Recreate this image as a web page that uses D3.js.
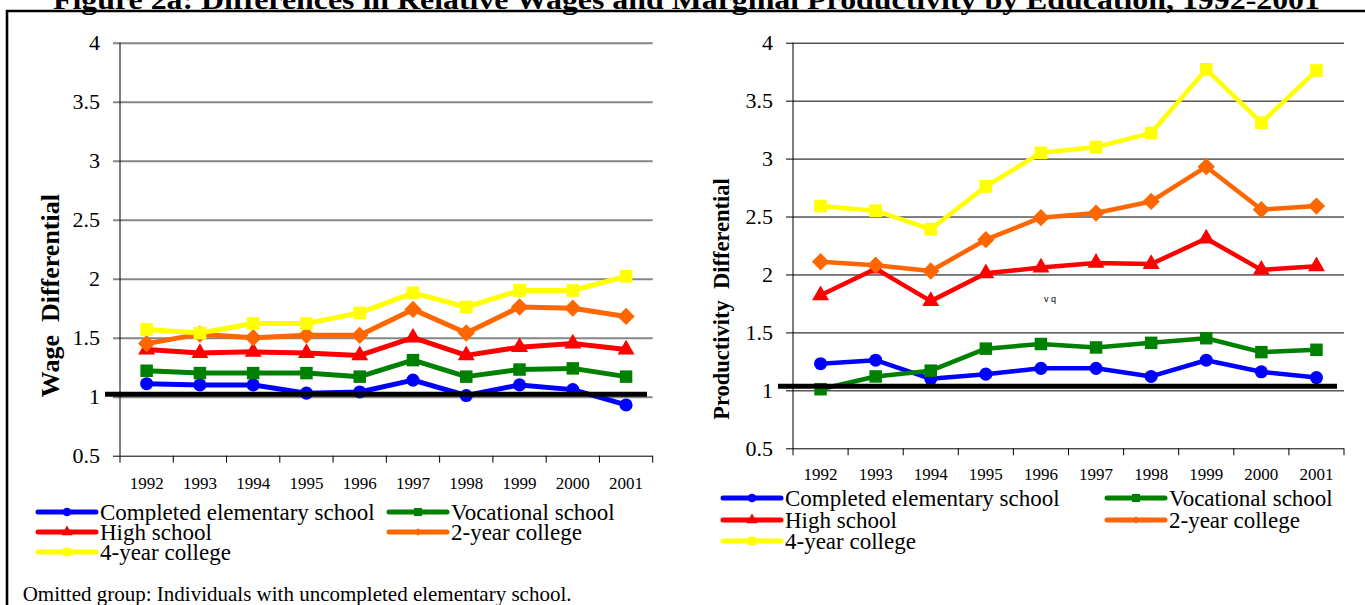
<!DOCTYPE html>
<html>
<head>
<meta charset="utf-8">
<script src="https://cdn.jsdelivr.net/npm/d3@7"></script>
<style>
  body { margin: 0; background: #fff; }
  svg { display: block; }
</style>
</head>
<body>
<svg id="chart" width="1365" height="605" font-family="'Liberation Serif', 'Times New Roman', serif"></svg>
<script>
// ---- data ----
const years = ["1992", "1993", "1994", "1995", "1996", "1997", "1998", "1999", "2000", "2001"];
const seriesNames = ["Completed elementary school", "Vocational school", "High school", "2-year college", "4-year college"];
const seriesColors = ["#0000FF", "#008000", "#FF0000", "#FF6600", "#FFFF00"];
const yTicks = [0.5, 1, 1.5, 2, 2.5, 3, 3.5, 4];

// Wage differentials
const wageElementary = [1.11, 1.10, 1.10, 1.03, 1.04, 1.14, 1.01, 1.10, 1.06, 0.93];
const wageVocational = [1.22, 1.20, 1.20, 1.20, 1.17, 1.31, 1.17, 1.23, 1.24, 1.17];
const wageHighSchool = [1.40, 1.37, 1.38, 1.37, 1.35, 1.50, 1.35, 1.42, 1.45, 1.40];
const wageCollege2 = [1.45, 1.53, 1.50, 1.52, 1.52, 1.74, 1.54, 1.76, 1.75, 1.68];
const wageCollege4 = [1.57, 1.54, 1.62, 1.62, 1.71, 1.88, 1.76, 1.90, 1.90, 2.02];

// Productivity differentials
const prodElementary = [1.23, 1.26, 1.10, 1.14, 1.19, 1.19, 1.12, 1.26, 1.16, 1.11];
const prodVocational = [1.01, 1.12, 1.17, 1.36, 1.40, 1.37, 1.41, 1.45, 1.33, 1.35];
const prodHighSchool = [1.82, 2.05, 1.77, 2.01, 2.06, 2.10, 2.09, 2.31, 2.04, 2.07];
const prodCollege2 = [2.11, 2.08, 2.03, 2.30, 2.49, 2.53, 2.63, 2.93, 2.56, 2.59];
const prodCollege4 = [2.59, 2.55, 2.39, 2.76, 3.05, 3.10, 3.22, 3.77, 3.31, 3.76];

// reference bars drawn across each panel near parity
const wageReference = 1.02;
const prodReference = 1.035;

// ---- drawing ----
const SERIF = "'Liberation Serif', 'Times New Roman', serif";
const svg = d3.select("#chart");

// square rotated 45 degrees
const symbolRhombus = {
  draw(ctx, size) {
    const r = Math.sqrt(size / 2);
    ctx.moveTo(0, -r); ctx.lineTo(r, 0); ctx.lineTo(0, r); ctx.lineTo(-r, 0); ctx.closePath();
  }
};
const seriesSymbols = [d3.symbolCircle, d3.symbolSquare, d3.symbolTriangle, symbolRhombus, d3.symbolSquare];
const symbolSizes = [135, 156, 125, 150, 160];
const legendSymbolSizes = [60, 64, 55, 30, 70];

// frame
svg.append("path")
  .attr("d", "M7,605 L7,11 L1365,11")
  .attr("fill", "none").attr("stroke", "#000").attr("stroke-width", 2.6);

// title
svg.append("text")
  .attr("x", 53).attr("y", 9)
  .attr("textLength", 1267).attr("lengthAdjust", "spacingAndGlyphs")
  .attr("font-family", SERIF)
  .attr("font-size", 27).attr("font-weight", "bold")
  .text("Figure 2a: Differences in Relative Wages and Marginal Productivity by Education, 1992-2001");

function drawPanel(cfg) {
  const g = svg.append("g");
  const x = d3.scaleBand().domain(years).range(cfg.xRange);
  const y = d3.scaleLinear().domain([0.5, 4]).range(cfg.yRange);
  const plotW = cfg.xRange[1] - cfg.xRange[0];

  // horizontal gridlines + y tick labels
  const yAxis = g.append("g")
    .attr("transform", `translate(${cfg.xRange[0] - 7},0)`)
    .call(d3.axisLeft(y).tickValues(yTicks).tickFormat(d3.format("")).tickSize(-(plotW + 7)).tickPadding(13))
    .attr("font-family", SERIF).attr("font-size", 22);
  yAxis.select(".domain").remove();
  yAxis.selectAll(".tick line")
    .attr("stroke", d => d === 0.5 ? "#000" : cfg.gridColor)
    .attr("stroke-width", d => d === 0.5 ? 1 : cfg.gridWidth);
  yAxis.selectAll(".tick text").attr("fill", "#000");

  // vertical value axis
  g.append("line")
    .attr("x1", cfg.xRange[0]).attr("x2", cfg.xRange[0])
    .attr("y1", y(4)).attr("y2", y(0.5))
    .attr("stroke", "#000").attr("stroke-width", 1);

  // category boundary ticks
  const edges = years.map(d => x(d)).concat([cfg.xRange[1]]);
  g.selectAll(".edge").data(edges).join("line")
    .attr("x1", d => d).attr("x2", d => d)
    .attr("y1", y(0.5)).attr("y2", y(0.5) + 7)
    .attr("stroke", "#000").attr("stroke-width", 1);

  // year labels
  const xAxis = g.append("g")
    .attr("transform", `translate(0,${y(0.5)})`)
    .call(d3.axisBottom(x).tickSize(0).tickPadding(cfg.xLabelPad))
    .attr("font-family", SERIF).attr("font-size", 17);
  xAxis.select(".domain").remove();
  xAxis.selectAll(".tick text").attr("fill", "#000");

  // series lines and markers
  const line = d3.line().x((d, i) => x(years[i]) + x.bandwidth() / 2).y(d => y(d));
  cfg.series.forEach((vals, si) => {
    g.append("path")
      .attr("d", line(vals))
      .attr("fill", "none")
      .attr("stroke", seriesColors[si])
      .attr("stroke-width", cfg.lineWidth)
      .attr("stroke-linejoin", "round");
    g.selectAll(null).data(vals).join("path")
      .attr("transform", (d, i) => `translate(${x(years[i]) + x.bandwidth() / 2},${y(d)})`)
      .attr("d", d3.symbol().type(seriesSymbols[si]).size(symbolSizes[si]))
      .attr("fill", seriesColors[si]);
  });

  // parity bar
  g.append("line")
    .attr("x1", cfg.refX[0]).attr("x2", cfg.refX[1])
    .attr("y1", y(cfg.refValue)).attr("y2", y(cfg.refValue))
    .attr("stroke", "#000").attr("stroke-width", 5);

  // axis title
  svg.append("text")
    .attr("transform", `translate(${cfg.titlePos[0]},${cfg.titlePos[1]}) rotate(-90)`)
    .attr("text-anchor", "middle")
    .attr("font-family", SERIF)
    .attr("font-size", cfg.titleSize).attr("font-weight", "bold")
    .style("white-space", "pre")
    .text(cfg.title);

  // legend
  const leg = svg.append("g");
  seriesNames.forEach((name, si) => {
    const lx = cfg.legendCols[si % 2];
    const ly = cfg.legendRows[Math.floor(si / 2)];
    const item = leg.append("g");
    item.append("line")
      .attr("x1", lx).attr("x2", lx + 58).attr("y1", ly).attr("y2", ly)
      .attr("stroke", seriesColors[si]).attr("stroke-width", 5).attr("stroke-linecap", "round");
    item.append("path")
      .attr("transform", `translate(${lx + 29},${ly})`)
      .attr("d", d3.symbol().type(seriesSymbols[si]).size(legendSymbolSizes[si]))
      .attr("fill", seriesColors[si]);
    item.append("text")
      .attr("x", lx + 62).attr("y", ly + 7.6)
      .attr("font-family", SERIF).attr("font-size", 23)
      .text(name);
  });
}

drawPanel({
  xRange: [120, 652.7], yRange: [455.7, 42.7],
  series: [wageElementary, wageVocational, wageHighSchool, wageCollege2, wageCollege4],
  gridColor: "#868686", gridWidth: 2, lineWidth: 5,
  xLabelPad: 21, refValue: wageReference, refX: [105, 647],
  title: "Wage  Differential", titleSize: 26, titlePos: [59, 295.6],
  legendCols: [38, 389], legendRows: [512, 532, 552]
});

drawPanel({
  xRange: [793, 1344], yRange: [448.3, 42.7],
  series: [prodElementary, prodVocational, prodHighSchool, prodCollege2, prodCollege4],
  gridColor: "#000", gridWidth: 1, lineWidth: 4.5,
  xLabelPad: 19.6, refValue: prodReference, refX: [778, 1337],
  title: "Productivity  Differential", titleSize: 22.5, titlePos: [728.6, 299],
  legendCols: [723, 1107], legendRows: [498, 520, 541]
});

// stray annotation inside the productivity panel
svg.append("text")
  .attr("x", 1050).attr("y", 302)
  .attr("text-anchor", "middle")
  .attr("font-family", "'Liberation Sans', Arial, sans-serif").attr("font-size", 9)
  .text("v q");

// footnote
svg.append("text")
  .attr("x", 22.7).attr("y", 600.5)
  .attr("font-family", SERIF).attr("font-size", 21)
  .text("Omitted group: Individuals with uncompleted elementary school.");
</script>
</body>
</html>
